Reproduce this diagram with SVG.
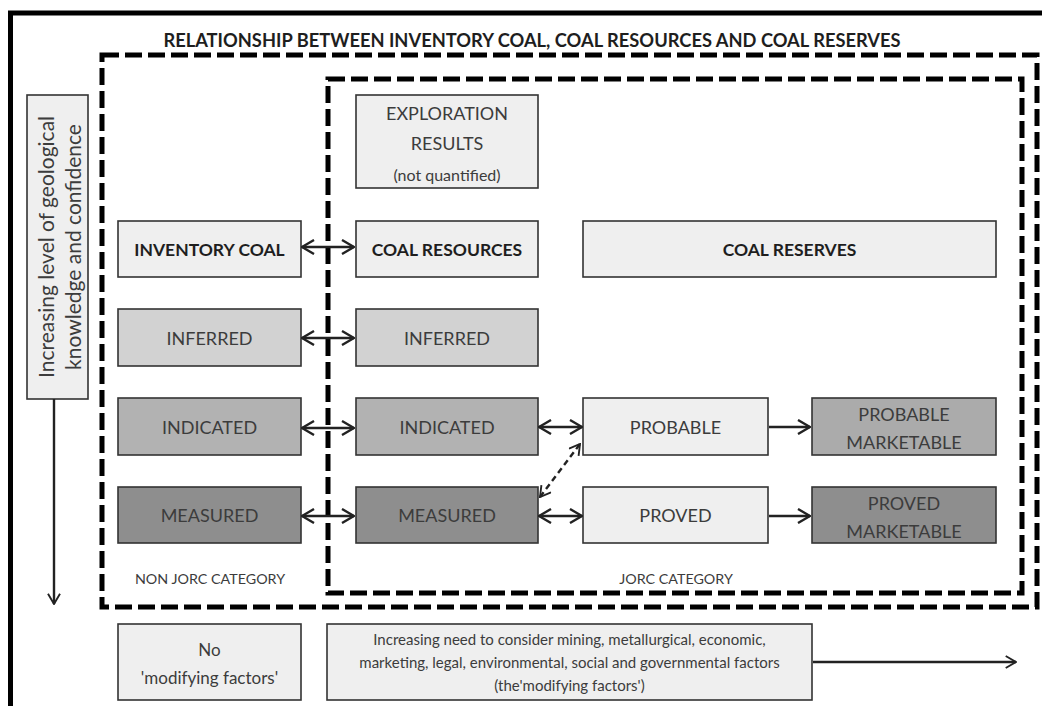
<svg xmlns="http://www.w3.org/2000/svg" width="1042" height="706" viewBox="0 0 1042 706">
<defs>
<style>
.box{stroke:#333;stroke-width:1.6}
.l{fill:#efefef}.g1{fill:#d2d2d2}.g2{fill:#b2b2b2}.g3{fill:#8e8e8e}.g2b{fill:#ababab}
.t{font-family:Lato,"Liberation Sans",sans-serif;fill:#3c3c3c;text-anchor:middle;dominant-baseline:central}
.b{font-weight:bold;fill:#1e1e1e}
.dash{fill:none;stroke:#000;stroke-width:5;stroke-dasharray:17 6}
.con{fill:none;stroke:#222;stroke-width:2.4}
</style>
<marker id="ah" viewBox="0 0 14 16" refX="13" refY="8" markerWidth="14" markerHeight="16" markerUnits="userSpaceOnUse" orient="auto-start-reverse">
<path d="M1 1 L13 8 L1 15" fill="none" stroke="#222" stroke-width="2.4"/>
</marker>
<marker id="ah2" viewBox="0 0 14 16" refX="13" refY="8" markerWidth="12" markerHeight="14" markerUnits="userSpaceOnUse" orient="auto-start-reverse">
<path d="M1 1 L13 8 L1 15" fill="none" stroke="#222" stroke-width="2.2"/>
</marker>
</defs>
<rect width="1042" height="706" fill="#fff"/>
<path d="M10.5 706 V13 H1042" fill="none" stroke="#000" stroke-width="5"/>
<text class="t b" x="532" y="40" font-size="18.3">RELATIONSHIP BETWEEN INVENTORY COAL, COAL RESOURCES AND COAL RESERVES</text>
<rect class="dash" x="102" y="55" width="935" height="552"/>
<rect class="dash" x="328" y="79" width="694" height="514"/>
<g id="axis">
<rect class="box l" x="27" y="95" width="61" height="304"/>
<text class="t" transform="translate(45 247) rotate(-90)" font-size="21">Increasing level of geological</text>
<text class="t" transform="translate(72 247) rotate(-90)" font-size="21">knowledge and confidence</text>
</g>
<g id="exploration">
<rect class="box l" x="356" y="95" width="182" height="93"/>
<text class="t" x="447" y="113" font-size="18">EXPLORATION</text>
<text class="t" x="447" y="143" font-size="18">RESULTS</text>
<text class="t" x="447" y="174" font-size="16">(not quantified)</text>
</g>
<g id="inventory-coal"><rect class="box l" x="118" y="221" width="183" height="56"/><text class="t b" x="209.5" y="249" font-size="17.5">INVENTORY COAL</text></g>
<g id="coal-resources"><rect class="box l" x="356" y="221" width="182" height="56"/><text class="t b" x="447" y="249" font-size="17.5">COAL RESOURCES</text></g>
<g id="coal-reserves"><rect class="box l" x="583" y="221" width="413" height="56"/><text class="t b" x="789.5" y="249" font-size="17.5">COAL RESERVES</text></g>
<g id="inferred-nj"><rect class="box g1" x="118" y="309" width="183" height="57"/><text class="t" x="209.5" y="338" font-size="18">INFERRED</text></g>
<g id="inferred-j"><rect class="box g1" x="356" y="309" width="182" height="57"/><text class="t" x="447" y="338" font-size="18">INFERRED</text></g>
<g id="indicated-nj"><rect class="box g2" x="118" y="398" width="183" height="57"/><text class="t" x="209.5" y="427" font-size="18">INDICATED</text></g>
<g id="indicated-j"><rect class="box g2" x="356" y="398" width="182" height="57"/><text class="t" x="447" y="427" font-size="18">INDICATED</text></g>
<g id="probable"><rect class="box l" x="583" y="398" width="185" height="57"/><text class="t" x="675.5" y="427" font-size="18">PROBABLE</text></g>
<g id="probable-marketable"><rect class="box g2b" x="812" y="398" width="184" height="57"/><text class="t" x="904" y="414" font-size="18">PROBABLE</text><text class="t" x="904" y="442" font-size="18">MARKETABLE</text></g>
<g id="measured-nj"><rect class="box g3" x="118" y="487" width="183" height="56"/><text class="t" x="209.5" y="515" font-size="18">MEASURED</text></g>
<g id="measured-j"><rect class="box g3" x="356" y="487" width="182" height="56"/><text class="t" x="447" y="515" font-size="18">MEASURED</text></g>
<g id="proved"><rect class="box l" x="583" y="487" width="185" height="56"/><text class="t" x="675.5" y="515" font-size="18">PROVED</text></g>
<g id="proved-marketable"><rect class="box g3" x="812" y="487" width="184" height="56"/><text class="t" x="904" y="503" font-size="18">PROVED</text><text class="t" x="904" y="531" font-size="18">MARKETABLE</text></g>
<g id="non-jorc-label"><text class="t" x="210" y="578" font-size="14.3">NON JORC CATEGORY</text></g>
<g id="jorc-label"><text class="t" x="676" y="578" font-size="14.3">JORC CATEGORY</text></g>
<g id="no-modifying"><rect class="box l" x="118" y="624" width="183" height="76"/><text class="t" x="209.5" y="649" font-size="17">No</text><text class="t" x="209.5" y="677" font-size="17">'modifying factors'</text></g>
<g id="modifying"><rect class="box l" x="327" y="624" width="485" height="76"/>
<text class="t" x="569.5" y="639" font-size="15">Increasing need to consider mining, metallurgical, economic,</text>
<text class="t" x="569.5" y="662" font-size="15">marketing, legal, environmental, social and governmental factors</text>
<text class="t" x="569.5" y="685" font-size="15">(the'modifying factors')</text>
</g>
<g id="connectors">
<path class="con" d="M54 399 V604" marker-end="url(#ah2)" stroke-width="2"/>
<path class="con" d="M302 247 H354" marker-start="url(#ah)" marker-end="url(#ah)"/>
<path class="con" d="M302 338 H354" marker-start="url(#ah)" marker-end="url(#ah)"/>
<path class="con" d="M302 428 H354" marker-start="url(#ah)" marker-end="url(#ah)"/>
<path class="con" d="M302 516 H354" marker-start="url(#ah)" marker-end="url(#ah)"/>
<path class="con" d="M539 427 H582" marker-start="url(#ah)" marker-end="url(#ah)"/>
<path class="con" d="M539 516 H582" marker-start="url(#ah)" marker-end="url(#ah)"/>
<path class="con" d="M769 427 H810" marker-end="url(#ah)"/>
<path class="con" d="M769 516 H810" marker-end="url(#ah)"/>
<path class="con" d="M540 497 L580 444" stroke-dasharray="6 4" stroke-width="2" marker-start="url(#ah2)" marker-end="url(#ah2)"/>
<path class="con" d="M813 662 H1016" stroke-width="2" marker-end="url(#ah2)"/>
</g>
</svg>
